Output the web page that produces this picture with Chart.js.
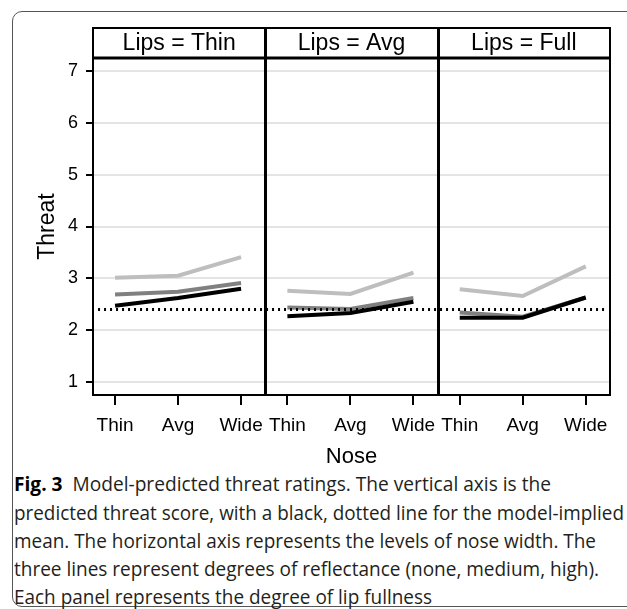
<!DOCTYPE html>
<html>
<head>
<meta charset="utf-8">
<script src="https://cdn.jsdelivr.net/npm/chart.js@4.4.1/dist/chart.umd.min.js"></script>
<style>
  html, body { margin: 0; padding: 0; background: #fff; }
  body { width: 627px; height: 609px; position: relative; overflow: hidden; }
  #frame { position: absolute; left: 12px; top: 11px; width: 640px; height: 594px;
           border: 1px solid #555; border-radius: 10px; }
  #wrap { position: absolute; left: 0; top: 0; width: 627px; height: 470px; }
  .cap { position: absolute; left: 14px; white-space: nowrap; transform-origin: 0 50%;
         font-family: "Open Sans", sans-serif; font-size: 20px; color: #231f20; line-height: 28px; }
  .cap b { font-weight: 700; color: #000; }
</style>
</head>
<body>
<div id="frame"></div>
<div id="wrap"><canvas id="chart" width="627" height="470"></canvas></div>
<div class="cap" data-w="537" style="top:470px"><b>Fig. 3</b>&nbsp; Model-predicted threat ratings. The vertical axis is the</div>
<div class="cap" data-w="610" style="top:499px">predicted threat score, with a black, dotted line for the model-implied</div>
<div class="cap" data-w="582" style="top:527px">mean. The horizontal axis represents the levels of nose width. The</div>
<div class="cap" data-w="585" style="top:555px">three lines represent degrees of reflectance (none, medium, high).</div>
<div class="cap" data-w="418" style="top:583px">Each panel represents the degree of lip fullness</div>
<script>
// categories
var noseLevels = ['Thin', 'Avg', 'Wide'];
var lipPanels = ['Thin', 'Avg', 'Full'];
var yTicks = [1, 2, 3, 4, 5, 6, 7];

// predicted threat, one row per lip panel, one value per nose level
var reflNone = [[2.47, 2.62, 2.80], [2.27, 2.33, 2.55], [2.24, 2.24, 2.63]];
var reflMedium = [[2.69, 2.74, 2.91], [2.44, 2.41, 2.62], [2.34, 2.26, 2.63]];
var reflHigh = [[3.01, 3.05, 3.41], [2.76, 2.70, 3.11], [2.79, 2.66, 3.23]];
var impliedMean = 2.40;

var PANEL_SPAN = 2.735;
var X_PAD = 0.35;
var xMin = -X_PAD;
var xMax = lipPanels.length * PANEL_SPAN - X_PAD;

function buildSeries(rows) {
    var pts = [];
    rows.forEach(function (row, p) {
        row.forEach(function (v, i) {
            pts.push({ x: p * PANEL_SPAN + i, y: v });
        });
        pts.push({ x: p * PANEL_SPAN + 2.5, y: null });
    });
    return pts;
}

var xTickPos = [];
var xTickLabel = {};
lipPanels.forEach(function (lip, p) {
    noseLevels.forEach(function (n, i) {
        var pos = p * PANEL_SPAN + i;
        xTickPos.push(pos);
        xTickLabel[pos.toFixed(3)] = n;
    });
});

Chart.defaults.font.family = '"Liberation Sans", Arial, sans-serif';
Chart.defaults.color = '#000';

var panelFrame = {
    id: 'panelFrame',
    afterDraw: function (chart) {
        var c = chart.ctx, a = chart.chartArea, xs = chart.scales.x;
        var stripTop = 28;
        c.save();
        c.strokeStyle = '#000';
        // plot frame
        c.lineWidth = 2;
        c.strokeRect(a.left, stripTop, a.right - a.left, a.bottom - stripTop);
        c.lineWidth = 3;
        c.beginPath();
        c.moveTo(a.left - 1, a.top);
        c.lineTo(a.right + 1, a.top);
        c.stroke();
        // panel dividers
        for (var p = 1; p < lipPanels.length; p++) {
            var xp = Math.round(xs.getPixelForValue(p * PANEL_SPAN - X_PAD)) + 0.5;
            c.beginPath();
            c.moveTo(xp, stripTop);
            c.lineTo(xp, a.bottom);
            c.stroke();
        }
        // strip labels
        c.fillStyle = '#000';
        c.font = '23px "Liberation Sans", Arial, sans-serif';
        c.textAlign = 'center';
        c.textBaseline = 'middle';
        lipPanels.forEach(function (lip, p) {
            var l = xs.getPixelForValue(p * PANEL_SPAN - X_PAD);
            var r = xs.getPixelForValue((p + 1) * PANEL_SPAN - X_PAD);
            c.fillText('Lips = ' + lip, (l + r) / 2, (stripTop + a.top) / 2 + 1);
        });
        c.restore();
    }
};

new Chart(document.getElementById('chart'), {
    type: 'line',
    data: {
        datasets: [
            {
                label: 'Model-implied mean',
                data: [{ x: xMin + 0.08, y: impliedMean }, { x: xMax - 0.05, y: impliedMean }],
                borderColor: '#000',
                borderWidth: 3,
                borderDash: [2, 4],
                pointRadius: 0
            },
            {
                label: 'None',
                data: buildSeries(reflNone),
                borderColor: '#000',
                borderWidth: 4,
                pointRadius: 0,
                spanGaps: false
            },
            {
                label: 'Medium',
                data: buildSeries(reflMedium),
                borderColor: '#808080',
                borderWidth: 4,
                pointRadius: 0,
                spanGaps: false
            },
            {
                label: 'High',
                data: buildSeries(reflHigh),
                borderColor: '#bebebe',
                borderWidth: 4,
                pointRadius: 0,
                spanGaps: false
            }
        ]
    },
    options: {
        responsive: false,
        animation: false,
        layout: { padding: { left: 0, right: 17, top: 58, bottom: 0 } },
        plugins: { legend: { display: false }, tooltip: { enabled: false } },
        scales: {
            x: {
                type: 'linear',
                min: xMin,
                max: xMax,
                afterBuildTicks: function (axis) {
                    axis.ticks = xTickPos.map(function (v) { return { value: v }; });
                },
                afterFit: function (axis) { axis.height = 75; },
                ticks: {
                    autoSkip: false,
                    maxRotation: 0,
                    padding: 9,
                    font: { size: 19 },
                    callback: function (v) { return xTickLabel[Number(v).toFixed(3)] || ''; }
                },
                grid: { drawOnChartArea: false, drawTicks: true, tickLength: 10, tickColor: '#000', lineWidth: 2 },
                border: { display: false },
                title: { display: true, text: 'Nose', font: { size: 22 }, padding: { top: 0, bottom: 0 } }
            },
            y: {
                min: 0.75,
                max: 7.25,
                afterBuildTicks: function (axis) {
                    axis.ticks = yTicks.map(function (v) { return { value: v }; });
                },
                afterFit: function (axis) { axis.width = 93; },
                ticks: { padding: 8, font: { size: 18 } },
                grid: { color: '#e4e4e4', lineWidth: 2, drawTicks: true, tickLength: 7, tickColor: '#000' },
                border: { display: false },
                title: { display: true, text: 'Threat', font: { size: 23 }, padding: { top: 34, bottom: 0 } }
            }
        }
    },
    plugins: [panelFrame]
});

document.querySelectorAll('.cap').forEach(function (el) {
    var target = Number(el.dataset.w);
    var w = el.getBoundingClientRect().width;
    el.style.transform = 'scaleX(' + (target / w) + ')';
});
</script>
</body>
</html>
